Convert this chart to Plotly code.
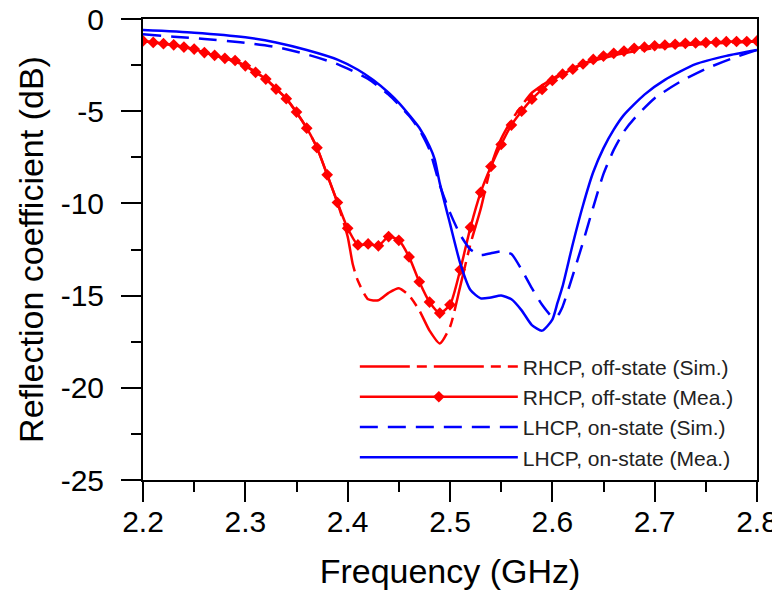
import plotly.graph_objects as go

# ---- data ----
freq_mea_rhcp = [2.20, 2.21, 2.22, 2.23, 2.24, 2.25, 2.26, 2.27, 2.28, 2.29,
                 2.30, 2.31, 2.32, 2.33, 2.34, 2.35, 2.36, 2.37, 2.38, 2.39,
                 2.40, 2.41, 2.42, 2.43, 2.44, 2.45, 2.46, 2.47, 2.48, 2.49,
                 2.50, 2.51, 2.52, 2.53, 2.54, 2.55, 2.56, 2.57, 2.58, 2.59,
                 2.60, 2.61, 2.62, 2.63, 2.64, 2.65, 2.66, 2.67, 2.68, 2.69,
                 2.70, 2.71, 2.72, 2.73, 2.74, 2.75, 2.76, 2.77, 2.78, 2.79, 2.80]
rhcp_mea = [-1.19, -1.27, -1.34, -1.40, -1.52, -1.63, -1.82, -1.97, -2.13, -2.25,
            -2.54, -2.89, -3.26, -3.80, -4.32, -5.05, -5.92, -6.98, -8.45, -9.95,
            -11.35, -12.25, -12.20, -12.30, -11.80, -12.00, -12.90, -14.25, -15.35, -15.95,
            -15.50, -13.60, -11.30, -9.40, -8.00, -6.80, -5.75, -5.00, -4.35, -3.82,
            -3.33, -2.99, -2.72, -2.44, -2.19, -2.01, -1.86, -1.74, -1.59, -1.53,
            -1.45, -1.41, -1.37, -1.32, -1.30, -1.28, -1.26, -1.23, -1.22, -1.22, -1.19]

freq_sim_rhcp = [2.20, 2.22, 2.24, 2.26, 2.28, 2.30, 2.32, 2.34, 2.36, 2.37, 2.38, 2.39,
                 2.40, 2.405, 2.41, 2.42, 2.43, 2.44, 2.45, 2.46, 2.47, 2.48, 2.49,
                 2.50, 2.51, 2.52, 2.53, 2.54, 2.55, 2.56, 2.57, 2.58, 2.59, 2.60,
                 2.61, 2.62, 2.63, 2.64, 2.65, 2.66, 2.67, 2.68, 2.69, 2.70,
                 2.72, 2.74, 2.76, 2.78, 2.80]
rhcp_sim = [-1.19, -1.34, -1.52, -1.82, -2.13, -2.54, -3.26, -4.32, -5.92, -6.98, -8.45, -9.95,
            -11.8, -13.3, -14.2, -15.2, -15.25, -14.85, -14.6, -15.0, -15.8, -16.9, -17.6,
            -16.7, -14.5, -12.2, -10.3, -8.0, -6.5, -5.5, -4.7, -4.0, -3.6, -3.25,
            -2.9, -2.65, -2.45, -2.27, -2.12, -1.98, -1.86, -1.76, -1.66, -1.57,
            -1.45, -1.38, -1.32, -1.27, -1.22]

freq_mea_lhcp = [2.20, 2.25, 2.30, 2.33, 2.36, 2.39, 2.41, 2.425, 2.44, 2.45, 2.46,
                 2.47, 2.48, 2.485, 2.49, 2.50, 2.51, 2.52, 2.53, 2.54, 2.55, 2.56,
                 2.57, 2.58, 2.59, 2.60, 2.605, 2.61, 2.62, 2.63, 2.64, 2.65, 2.66,
                 2.67, 2.69, 2.71, 2.74, 2.77, 2.80]
lhcp_mea = [-0.60, -0.74, -0.99, -1.27, -1.68, -2.20, -2.75, -3.31, -4.00, -4.55, -5.20,
            -5.90, -6.90, -7.60, -8.90, -11.10, -13.25, -14.70, -15.15, -15.10, -15.00, -15.20,
            -15.80, -16.60, -16.90, -16.30, -15.40, -14.50, -12.20, -10.10, -8.30, -7.00, -6.00,
            -5.20, -4.10, -3.30, -2.45, -2.00, -1.68]

freq_sim_lhcp = [2.20, 2.23, 2.26, 2.295, 2.33, 2.36, 2.39, 2.42, 2.44, 2.46, 2.47,
                 2.48, 2.49, 2.50, 2.51, 2.52, 2.53, 2.54, 2.55, 2.56, 2.57, 2.58,
                 2.59, 2.60, 2.605, 2.61, 2.62, 2.63, 2.64, 2.65, 2.66, 2.67, 2.68,
                 2.70, 2.725, 2.75, 2.775, 2.80]
lhcp_sim = [-0.83, -0.96, -1.08, -1.26, -1.52, -1.92, -2.45, -3.25, -4.10, -5.25, -6.00,
            -7.10, -9.00, -10.50, -11.70, -12.50, -12.80, -12.70, -12.60, -12.75, -13.60, -14.60,
            -15.50, -16.15, -16.10, -15.60, -13.90, -12.10, -10.20, -8.40, -7.10, -6.10, -5.40,
            -4.30, -3.40, -2.70, -2.15, -1.68]

names = ["RHCP, off-state (Sim.)", "RHCP, off-state (Mea.)",
         "LHCP, on-state (Sim.)", "LHCP, on-state (Mea.)"]
x_ticks = [2.2, 2.3, 2.4, 2.5, 2.6, 2.7, 2.8]
y_ticks = [0, -5, -10, -15, -20, -25]

RED = "#ff0000"
BLUE = "#0000ff"
FONT = "Liberation Sans, Arial, sans-serif"

fig = go.Figure()
fig.add_trace(go.Scatter(x=freq_sim_rhcp, y=rhcp_sim, mode="lines", name=names[0],
                         line=dict(color=RED, width=2.5, dash="50px,7px,10px,7px", shape="spline", smoothing=0.6),
                         legendgroup="a"))
fig.add_trace(go.Scatter(x=freq_mea_rhcp, y=rhcp_mea, mode="lines+markers", name=names[1],
                         line=dict(color=RED, width=2.5, shape="spline", smoothing=0.6),
                         marker=dict(symbol="diamond", size=9, color=RED),
                         legendgroup="b"))
fig.add_trace(go.Scatter(x=freq_sim_lhcp, y=lhcp_sim, mode="lines", name=names[2],
                         line=dict(color=BLUE, width=2.5, dash="18px,10px", shape="spline", smoothing=0.6),
                         legendgroup="c"))
fig.add_trace(go.Scatter(x=freq_mea_lhcp, y=lhcp_mea, mode="lines", name=names[3],
                         line=dict(color=BLUE, width=2.5, shape="spline", smoothing=0.6),
                         legendgroup="d"))

axis_common = dict(showline=True, linecolor="black", linewidth=2, mirror=True,
                   ticks="outside", ticklen=20, tickwidth=2, tickcolor="black",
                   showgrid=False, zeroline=False, ticklabeloverflow="allow",
                   tickfont=dict(family=FONT, size=30, color="black"))

fig.update_xaxes(range=[2.2, 2.8], tickvals=x_ticks, ticktext=[f"{v:.1f}" for v in x_ticks],
                 minor=dict(dtick=0.05, ticks="outside", ticklen=10, tickwidth=2, tickcolor="black"),
                 title=dict(text="Frequency (GHz)", font=dict(family=FONT, size=34, color="black"), standoff=22),
                 ticklabelstandoff=-6,
                 **axis_common)
fig.update_yaxes(range=[-25, 0], tickvals=y_ticks, ticktext=[str(v) for v in y_ticks],
                 minor=dict(dtick=2.5, ticks="outside", ticklen=10, tickwidth=2, tickcolor="black"),
                 title=dict(text="Reflection coefficient (dB)", font=dict(family=FONT, size=34, color="black"), standoff=7),
                 ticklabelstandoff=11,
                 **axis_common)

# the page body adds an 8px offset, so the figure is 8px smaller on each axis
fig.update_layout(
    width=772, height=589,
    margin=dict(l=135, r=23, t=11, b=117, autoexpand=False),
    paper_bgcolor="white", plot_bgcolor="white",
    font=dict(family=FONT, color="black"),
    legend=dict(x=0.345, y=0.29, xanchor="left", yanchor="top",
                bgcolor="rgba(0,0,0,0)", borderwidth=0,
                font=dict(family=FONT, size=21, color="#222222"),
                itemwidth=158, traceorder="grouped", tracegroupgap=0),
    showlegend=True,
)

fig.write_html("out.html")
